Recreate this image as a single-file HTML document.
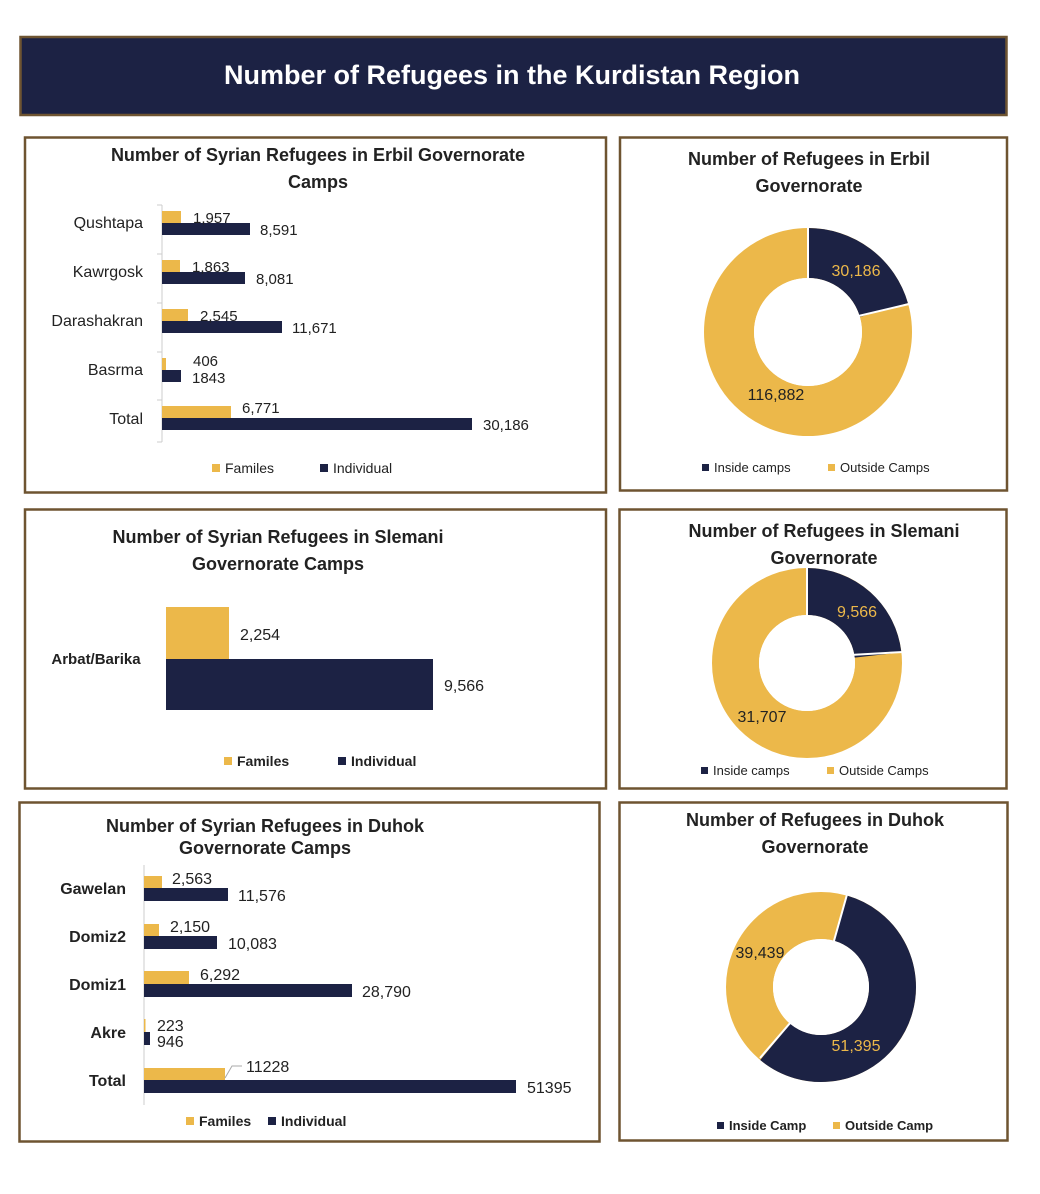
<!DOCTYPE html><html><head><style>body{margin:0;background:#fff}svg{display:block}text{font-family:"Liberation Sans",sans-serif;fill:#222}</style></head><body>
<svg width="1040" height="1194" viewBox="0 0 1040 1194">
<g fill="#fff" stroke="#6e5431" stroke-width="2.5">
<rect x="20.5" y="37" width="986" height="78" fill="#1c2244"/>
<rect x="25" y="137.5" width="581" height="355"/>
<rect x="620" y="137.5" width="387" height="353"/>
<rect x="25" y="509.5" width="581" height="279"/>
<rect x="619.5" y="509.5" width="387" height="279"/>
<rect x="19.5" y="802.5" width="580" height="339"/>
<rect x="619.5" y="802.5" width="388" height="338"/>
</g>
<text x="512" y="84" text-anchor="middle" font-size="27" font-weight="bold" style="fill:#fff">Number of Refugees in the Kurdistan Region</text>
<!-- Erbil bars -->
<g font-weight="bold" font-size="18" text-anchor="middle">
<text x="318" y="161">Number of Syrian Refugees in Erbil Governorate</text><text x="318" y="188">Camps</text>
<text x="809" y="165">Number of Refugees in Erbil</text><text x="809" y="192">Governorate</text>
<text x="278" y="543">Number of Syrian Refugees in Slemani</text><text x="278" y="570">Governorate Camps</text>
<text x="824" y="537">Number of Refugees in Slemani</text><text x="824" y="564">Governorate</text>
<text x="265" y="832">Number of Syrian Refugees in Duhok</text><text x="265" y="854">Governorate Camps</text>
<text x="815" y="826">Number of Refugees in Duhok</text><text x="815" y="853">Governorate</text>
</g>
<line x1="162" y1="205" x2="162" y2="442" stroke="#ccc"/>
<g stroke="#ccc"><line x1="157" y1="205" x2="162" y2="205"/><line x1="157" y1="254" x2="162" y2="254"/><line x1="157" y1="303" x2="162" y2="303"/><line x1="157" y1="352" x2="162" y2="352"/><line x1="157" y1="400" x2="162" y2="400"/><line x1="157" y1="442" x2="162" y2="442"/></g>
<g fill="#ecb84a"><rect x="162" y="211" width="19" height="12"/><rect x="162" y="260" width="18" height="12"/><rect x="162" y="309" width="26" height="12"/><rect x="162" y="358" width="4" height="12"/><rect x="162" y="406" width="69" height="12"/></g>
<g fill="#1c2244"><rect x="162" y="223" width="88" height="12"/><rect x="162" y="272" width="83" height="12"/><rect x="162" y="321" width="120" height="12"/><rect x="162" y="370" width="19" height="12"/><rect x="162" y="418" width="310" height="12"/></g>
<g font-size="16" text-anchor="end"><text x="143" y="228">Qushtapa</text><text x="143" y="277">Kawrgosk</text><text x="143" y="326">Darashakran</text><text x="143" y="375">Basrma</text><text x="143" y="424">Total</text></g>
<g font-size="15"><text x="193" y="223">1,957</text><text x="260" y="235">8,591</text><text x="192" y="272">1,863</text><text x="256" y="284">8,081</text><text x="200" y="321">2,545</text><text x="292" y="333">11,671</text><text x="193" y="366">406</text><text x="192" y="383">1843</text><text x="242" y="413">6,771</text><text x="483" y="430">30,186</text></g>
<g font-size="14"><rect x="212" y="464" width="8" height="8" fill="#ecb84a"/><text x="225" y="473">Familes</text><rect x="320" y="464" width="8" height="8" fill="#1c2244"/><text x="333" y="473">Individual</text></g>
<!-- Erbil donut -->
<circle cx="808" cy="332" r="79" fill="none" stroke="#ecb84a" stroke-width="50"/>
<circle cx="808" cy="332" r="79" fill="none" stroke="#1c2244" stroke-width="50" stroke-dasharray="101.8 500" transform="rotate(-90 808 332)"/>
<g stroke="#fff" stroke-width="2"><line x1="808" y1="332" x2="808" y2="226"/><line x1="850" y1="318" x2="909" y2="304"/></g>
<circle cx="808" cy="332" r="54" fill="#fff"/>
<text x="856" y="276" text-anchor="middle" font-size="16" style="fill:#ecb84a">30,186</text>
<text x="776" y="400" text-anchor="middle" font-size="16">116,882</text>
<g font-size="13"><rect x="702" y="464" width="7" height="7" fill="#1c2244"/><text x="714" y="472">Inside camps</text><rect x="828" y="464" width="7" height="7" fill="#ecb84a"/><text x="840" y="472">Outside Camps</text></g>
<!-- Slemani bars -->
<rect x="166" y="607" width="63" height="52" fill="#ecb84a"/><rect x="166" y="659" width="267" height="51" fill="#1c2244"/>
<text x="96" y="664" text-anchor="middle" font-size="15" font-weight="bold">Arbat/Barika</text>
<text x="240" y="640" font-size="16">2,254</text><text x="444" y="691" font-size="16">9,566</text>
<g font-size="14" font-weight="bold"><rect x="224" y="757" width="8" height="8" fill="#ecb84a"/><text x="237" y="766">Familes</text><rect x="338" y="757" width="8" height="8" fill="#1c2244"/><text x="351" y="766">Individual</text></g>
<!-- Slemani donut -->
<circle cx="807" cy="663" r="71.5" fill="none" stroke="#ecb84a" stroke-width="47"/>
<circle cx="807" cy="663" r="71.5" fill="none" stroke="#1c2244" stroke-width="47" stroke-dasharray="104.2 500" transform="rotate(-90 807 663)"/>
<g stroke="#fff" stroke-width="2"><line x1="807" y1="663" x2="807" y2="567"/><line x1="850" y1="655" x2="903" y2="652"/></g>
<circle cx="807" cy="663" r="48" fill="#fff"/>
<text x="857" y="617" text-anchor="middle" font-size="16" style="fill:#ecb84a">9,566</text>
<text x="762" y="722" text-anchor="middle" font-size="16">31,707</text>
<g font-size="13"><rect x="701" y="767" width="7" height="7" fill="#1c2244"/><text x="713" y="775">Inside camps</text><rect x="827" y="767" width="7" height="7" fill="#ecb84a"/><text x="839" y="775">Outside Camps</text></g>
<!-- Duhok bars -->
<line x1="144" y1="865" x2="144" y2="1105" stroke="#ccc"/>
<g fill="#ecb84a"><rect x="144" y="876" width="18" height="12"/><rect x="144" y="924" width="15" height="12"/><rect x="144" y="971" width="45" height="13"/><rect x="144" y="1019" width="1.5" height="13"/><rect x="144" y="1068" width="81" height="12"/></g>
<g fill="#1c2244"><rect x="144" y="888" width="84" height="13"/><rect x="144" y="936" width="73" height="13"/><rect x="144" y="984" width="208" height="13"/><rect x="144" y="1032" width="6" height="13"/><rect x="144" y="1080" width="372" height="13"/></g>
<g font-size="16" font-weight="bold" text-anchor="end"><text x="126" y="894">Gawelan</text><text x="126" y="942">Domiz2</text><text x="126" y="990">Domiz1</text><text x="126" y="1038">Akre</text><text x="126" y="1086">Total</text></g>
<g font-size="16"><text x="172" y="884">2,563</text><text x="238" y="901">11,576</text><text x="170" y="932">2,150</text><text x="228" y="949">10,083</text><text x="200" y="980">6,292</text><text x="362" y="997">28,790</text><text x="157" y="1031">223</text><text x="157" y="1047">946</text><text x="246" y="1072">11228</text><text x="527" y="1093">51395</text></g>
<polyline points="225,1078 232,1066 242,1066" fill="none" stroke="#aaa"/>
<g font-size="14" font-weight="bold"><rect x="186" y="1117" width="8" height="8" fill="#ecb84a"/><text x="199" y="1126">Familes</text><rect x="268" y="1117" width="8" height="8" fill="#1c2244"/><text x="281" y="1126">Individual</text></g>
<!-- Duhok donut -->
<circle cx="821" cy="987" r="71.5" fill="none" stroke="#ecb84a" stroke-width="47"/>
<circle cx="821" cy="987" r="71.5" fill="none" stroke="#1c2244" stroke-width="47" stroke-dasharray="254.2 500" transform="rotate(-74 821 987)"/>
<g stroke="#fff" stroke-width="2"><line x1="821" y1="987" x2="848" y2="891"/><line x1="821" y1="987" x2="760" y2="1058"/></g>
<circle cx="821" cy="987" r="48" fill="#fff"/>
<text x="760" y="958" text-anchor="middle" font-size="16">39,439</text>
<text x="856" y="1051" text-anchor="middle" font-size="16" style="fill:#ecb84a">51,395</text>
<g font-size="13" font-weight="bold"><rect x="717" y="1122" width="7" height="7" fill="#1c2244"/><text x="729" y="1130">Inside Camp</text><rect x="833" y="1122" width="7" height="7" fill="#ecb84a"/><text x="845" y="1130">Outside Camp</text></g>
</svg></body></html>
